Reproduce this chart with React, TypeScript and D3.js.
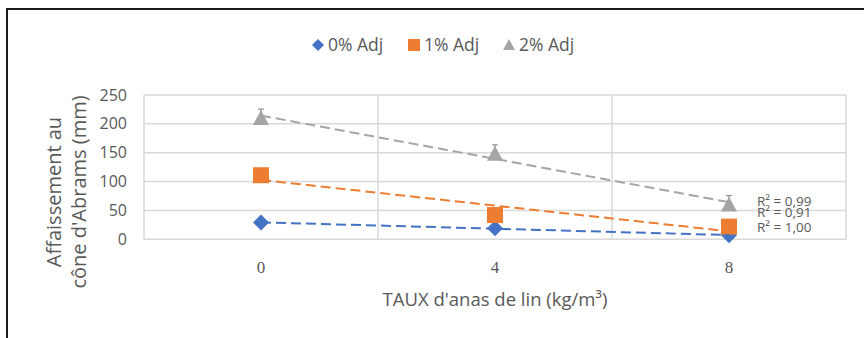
import React, { useEffect } from 'react';
import * as d3 from 'd3';

const categories = ['0', '4', '8'];
const seriesNames = ['0% Adj', '1% Adj', '2% Adj'];
const adj0 = [29, 19, 7];
const adj1 = [111, 42, 22];
const adj2 = [210, 148, 60];
const r2Labels = ['R² = 1,00', 'R² = 0,91', 'R² = 0,99'];
const yTicks = [0, 50, 100, 150, 200, 250];

const colors = ['#4472C4', '#ED7D31', '#A5A5A5'];
const textColor = '#595959';
const sans = '"Open Sans", "Noto Sans", sans-serif';

const W = 864;
const H = 338;
const margin = { left: 144, right: 846, top: 95, bottom: 239.3 };

// simple least squares on category index
const linearFit = (vals: number[]) => {
  const xs = vals.map((_, i) => i);
  const mx = d3.mean(xs) as number;
  const my = d3.mean(vals) as number;
  const num = d3.sum(xs.map((x, i) => (x - mx) * (vals[i] - my)));
  const den = d3.sum(xs.map(x => (x - mx) * (x - mx)));
  const slope = num / den;
  return (x: number) => my + slope * (x - mx);
};

const Marker: React.FC<{ kind: number; x: number; y: number; s?: number }> = ({ kind, x, y, s = 1 }) => {
  if (kind === 0) {
    const r = 8 * s;
    return <path d={`M${x},${y - r}L${x + r},${y}L${x},${y + r}L${x - r},${y}Z`} fill={colors[0]} />;
  }
  if (kind === 1) {
    const h = 8 * s;
    return <rect x={x - h} y={y - h} width={h * 2} height={h * 2} fill={colors[1]} />;
  }
  const h = 8 * s;
  return <path d={`M${x},${y - h}L${x + h},${y + h * 0.85}L${x - h},${y + h * 0.85}Z`} fill={colors[2]} />;
};

const App: React.FC = () => {
  useEffect(() => {
    document.body.style.margin = '0';
  }, []);

  const x = d3.scaleBand<string>().domain(categories).range([margin.left, margin.right]).padding(0);
  const y = d3.scaleLinear().domain([0, 250]).range([margin.bottom, margin.top]);
  const cx = (c: string) => (x(c) as number) + x.bandwidth() / 2;

  const series = [adj0, adj1, adj2];
  const trendLine = d3.line<[number, number]>().x(d => d[0]).y(d => d[1]);

  const vLines = [...categories.map(c => x(c) as number), margin.right];

  const legendX = [318, 414, 509];

  return (
    <svg width={W} height={H} style={{ position: 'absolute', left: 0, top: 0, background: '#fff' }}>
      <rect x={7} y={9} width={W} height={H} fill="#fff" stroke="#1a1a1a" strokeWidth={2} />

      {/* legend */}
      {seriesNames.map((n, i) => (
        <g key={n}>
          <Marker kind={i} x={legendX[i]} y={45} s={0.75} />
          <text x={legendX[i] + 10} y={45} dy="0.35em" fontFamily={sans} fontSize={17.5} fill={textColor}>{n}</text>
        </g>
      ))}

      {/* grid */}
      {yTicks.map(t => (
        <line key={t} x1={margin.left} x2={margin.right} y1={y(t)} y2={y(t)} stroke="#D9D9D9" strokeWidth={1.5} />
      ))}
      {vLines.map((v, i) => (
        <line key={i} x1={v} x2={v} y1={margin.top} y2={margin.bottom} stroke="#D9D9D9" strokeWidth={1.5} />
      ))}

      {/* y tick labels */}
      {yTicks.map(t => (
        <text key={t} x={127} y={y(t)} dy="0.35em" textAnchor="end" fontFamily={sans} fontSize={16} fill={textColor}>{t}</text>
      ))}

      {/* x tick labels */}
      {categories.map(c => (
        <text key={c} x={cx(c)} y={267} dy="0.35em" textAnchor="middle" fontFamily='"Liberation Serif", "DejaVu Serif", serif' fontSize={17} fill={textColor}>{c}</text>
      ))}

      {/* axis titles */}
      <text transform="translate(54,192) rotate(-90)" textAnchor="middle" dy="0.35em" fontFamily={sans} fontSize={20} fill={textColor}>Affaissement au</text>
      <text transform="translate(79,192) rotate(-90)" textAnchor="middle" dy="0.35em" fontFamily={sans} fontSize={20} fill={textColor}>cône d'Abrams (mm)</text>
      <text x={495} y={306} textAnchor="middle" fontFamily={sans} fontSize={18.5} fill={textColor}>TAUX d'anas de lin (kg/m³)</text>

      {/* markers */}
      {series.map((vals, si) => (
        <g key={si}>
          {vals.map((v, i) => (
            <g key={i}>
              {si === 2 && (
                <g stroke="#7f7f7f" strokeWidth={1}>
                  <line x1={cx(categories[i])} x2={cx(categories[i])} y1={y(v) - 9} y2={y(v)} />
                  <line x1={cx(categories[i]) - 3} x2={cx(categories[i]) + 3} y1={y(v) - 9} y2={y(v) - 9} />
                </g>
              )}
              <Marker kind={si} x={cx(categories[i])} y={y(v)} />
            </g>
          ))}
        </g>
      ))}

      {/* trend lines */}
      {series.map((vals, si) => {
        const f = linearFit(vals);
        const pts: [number, number][] = [
          [cx(categories[0]), y(f(0))],
          [cx(categories[categories.length - 1]), y(f(vals.length - 1))],
        ];
        return (
          <path key={si} d={trendLine(pts) as string} fill="none" stroke={colors[si]} strokeWidth={2} strokeDasharray="10,5" />
        );
      })}

      {/* R² labels */}
      {[227, 212, 201].map((ly, i) => (
        <text key={i} x={757} y={ly} dy="0.35em" fontFamily={sans} fontSize={13.5} fill={textColor}>{r2Labels[i]}</text>
      ))}
    </svg>
  );
};

export default App;
